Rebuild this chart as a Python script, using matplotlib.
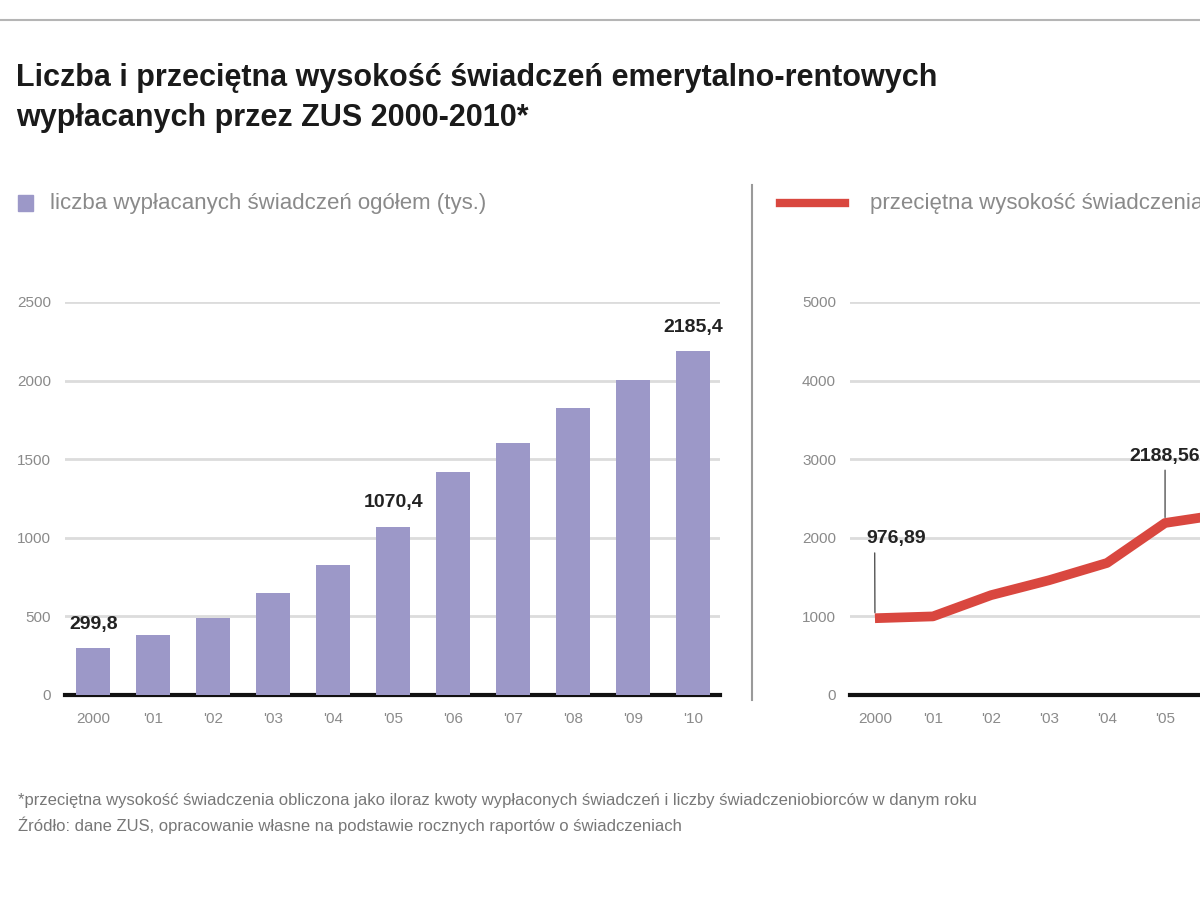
import matplotlib
matplotlib.use("Agg")
import matplotlib.pyplot as plt
from matplotlib.lines import Line2D
from matplotlib.patches import Rectangle

plt.rcParams["font.family"] = ["Liberation Sans", "DejaVu Sans"]

# data
years = ["2000", "'01", "'02", "'03", "'04", "'05", "'06", "'07", "'08", "'09", "'10"]
counts = [299.8, 382, 490, 650, 828, 1070.4, 1420, 1605, 1828, 2006, 2185.4]
count_labelled = [0, 5, 10]
avg_years = years[:7]
avg_amount = [976.89, 1000, 1270, 1460, 1680, 2188.56, 2300]
# (index, label offset in points, horizontal alignment)
avg_labelled = [(0, 51, "left"), (5, 42, "center")]
# the right panel is cropped by the picture edge after '05
right_visible = 6

left_ticks = [0, 500, 1000, 1500, 2000, 2500]
right_ticks = [0, 1000, 2000, 3000, 4000, 5000]

BAR = "#9c98c8"
RED = "#d9473f"
GRID = "#dcdcdc"
TICK = "#8a8a8a"
W, H = 1200, 923


def fx(px):
    return px / W


def fy(py):
    return 1 - py / H


def pl(v, nd):
    return f"{v:.{nd}f}".replace(".", ",")


def style_axes(ax, ticks):
    ax.set_ylim(ticks[0], ticks[-1])
    ax.set_yticks(ticks)
    ax.set_yticklabels([str(t) for t in ticks], color=TICK, fontsize=11)
    ax.grid(axis="y", color=GRID, linewidth=2)
    ax.set_axisbelow(True)
    for s in ["top", "right", "left"]:
        ax.spines[s].set_visible(False)
    ax.spines["bottom"].set_color("#111111")
    ax.spines["bottom"].set_linewidth(3)
    ax.tick_params(axis="both", length=0, pad=10)
    ax.tick_params(axis="x", colors=TICK, labelsize=11, pad=12)


fig = plt.figure(figsize=(12, 9.23), dpi=100)

# left panel: number of benefits
ax1 = fig.add_axes([fx(65), fy(695), fx(720 - 65), fy(302) - fy(695)])
x = list(range(len(years)))
ax1.bar(x, counts, width=0.57, color=BAR, zorder=3)
ax1.set_xlim(-0.47, 10.45)
ax1.set_xticks(x)
ax1.set_xticklabels(years)
style_axes(ax1, left_ticks)
for i in count_labelled:
    ax1.annotate(pl(counts[i], 1), (x[i], counts[i]), xytext=(0, 11),
                 textcoords="offset points", ha="center", va="bottom",
                 fontsize=14, fontweight="bold", color="#222222")

# right panel: average amount (runs off the right edge)
ax2 = fig.add_axes([fx(850), fy(695), fx(640), fy(302) - fy(695)])
x2 = list(range(len(avg_years)))
ax2.plot(x2, avg_amount, color=RED, linewidth=7, solid_capstyle="butt", zorder=3)
ax2.set_xlim(-0.43, 10.6)
ax2.set_xticks(x2[:right_visible])
ax2.set_xticklabels(avg_years[:right_visible])
style_axes(ax2, right_ticks)
for i, off, ha in avg_labelled:
    rel = (0.135, 0) if ha == "left" else (0.5, 0)
    dx = -6 if ha == "left" else 0
    ax2.annotate(pl(avg_amount[i], 2), (x2[i], avg_amount[i]), xytext=(dx, off),
                 textcoords="offset points", ha=ha, va="bottom",
                 fontsize=14, fontweight="bold", color="#222222",
                 arrowprops=dict(arrowstyle="-", color="#555555", lw=1,
                                 shrinkA=2, shrinkB=4, relpos=rel))

# separator, top rule
fig.add_artist(Line2D([fx(752), fx(752)], [fy(185), fy(700)], color="#9a9a9a", lw=1.5))
fig.add_artist(Line2D([0, 1], [fy(20), fy(20)], color="#b5b5b5", lw=1.5))

# title
fig.text(fx(16), fy(78), "Liczba i przeciętna wysokość świadczeń emerytalno-rentowych",
         fontsize=22, fontweight="bold", color="#1a1a1a", va="center")
fig.text(fx(16), fy(118), "wypłacanych przez ZUS 2000-2010*",
         fontsize=22, fontweight="bold", color="#1a1a1a", va="center")

# legends
fig.add_artist(Rectangle((fx(18), fy(211)), fx(15), fy(195) - fy(211), color=BAR))
fig.text(fx(50), fy(203), "liczba wypłacanych świadczeń ogółem (tys.)", fontsize=16,
         color="#8a8a8a", va="center")
fig.add_artist(Line2D([fx(780), fx(845)], [fy(203), fy(203)], color=RED, lw=6))
fig.text(fx(870), fy(203), "przeciętna wysokość świadczenia (zł)", fontsize=16,
         color="#8a8a8a", va="center")

# footnote
fig.text(fx(18), fy(800),
         "*przeciętna wysokość świadczenia obliczona jako iloraz kwoty wypłaconych świadczeń i liczby świadczeniobiorców w danym roku",
         fontsize=12, color="#777777", va="center")
fig.text(fx(18), fy(825),
         "Źródło: dane ZUS, opracowanie własne na podstawie rocznych raportów o świadczeniach",
         fontsize=12, color="#777777", va="center")

fig.savefig("out.png", dpi=100)
